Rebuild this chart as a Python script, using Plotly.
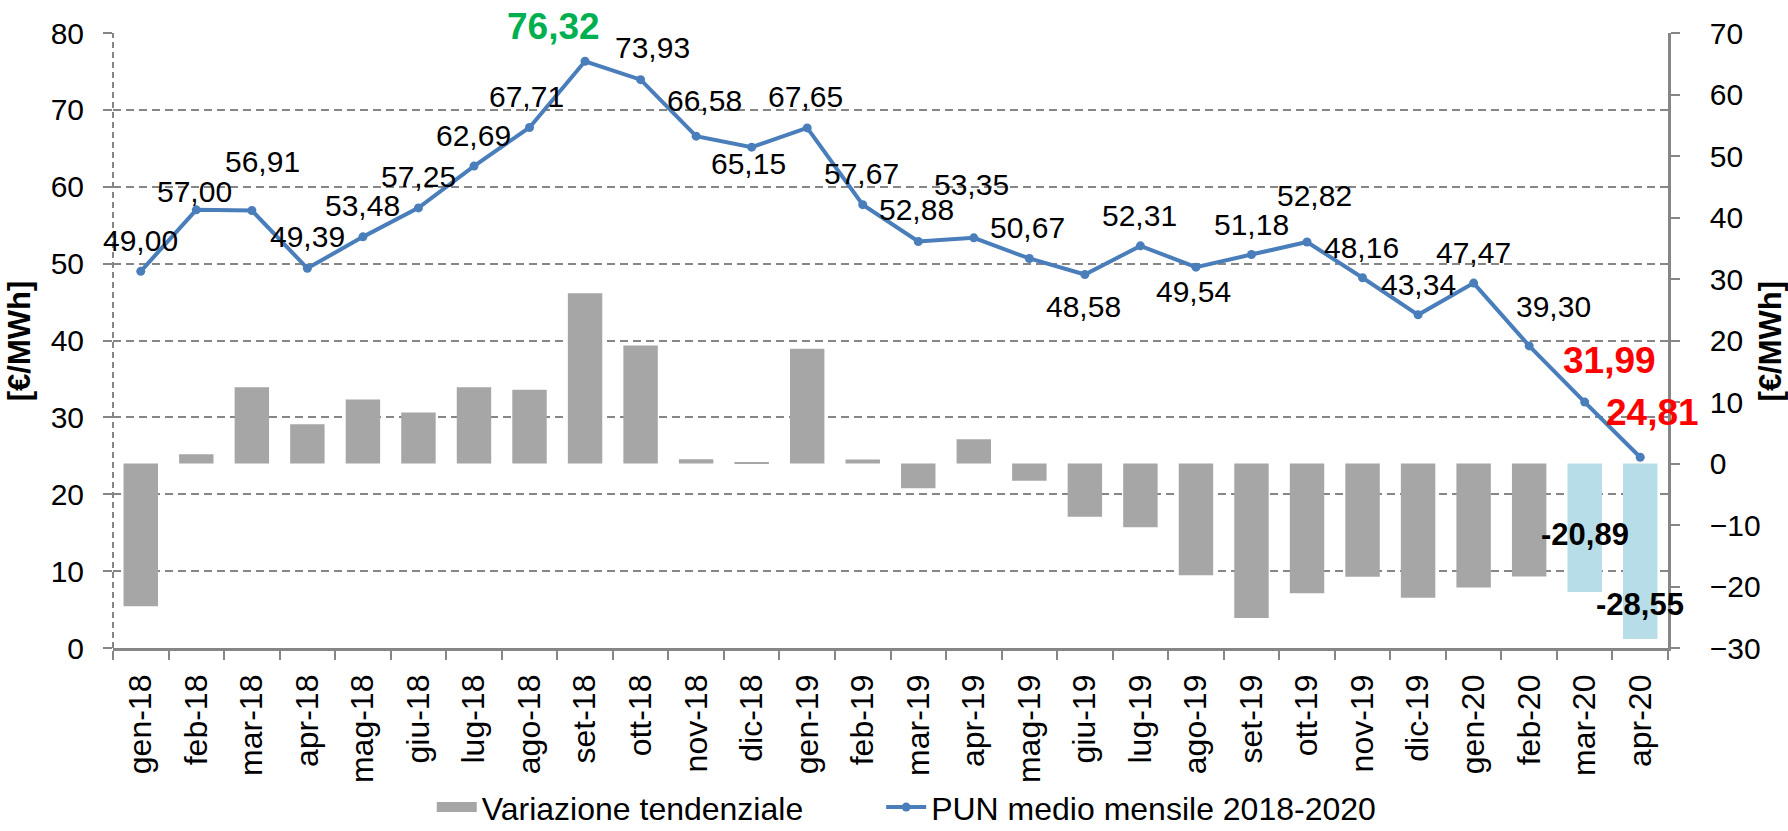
import plotly.graph_objects as go

months = ["gen-18", "feb-18", "mar-18", "apr-18", "mag-18", "giu-18", "lug-18", "ago-18",
          "set-18", "ott-18", "nov-18", "dic-18", "gen-19", "feb-19", "mar-19", "apr-19",
          "mag-19", "giu-19", "lug-19", "ago-19", "set-19", "ott-19", "nov-19", "dic-19",
          "gen-20", "feb-20", "mar-20", "apr-20"]

pun = [49.00, 57.00, 56.91, 49.39, 53.48, 57.25, 62.69, 67.71,
       76.32, 73.93, 66.58, 65.15, 67.65, 57.67, 52.88, 53.35,
       50.67, 48.58, 52.31, 49.54, 51.18, 52.82, 48.16, 43.34,
       47.47, 39.30, 31.99, 24.81]

variazione = [-23.2, 1.5, 12.4, 6.4, 10.4, 8.3, 12.4, 12.0,
              27.7, 19.2, 0.7, 0.1, 18.65, 0.67, -4.03, 3.96,
              -2.81, -8.67, -10.38, -18.17, -25.14, -21.11, -18.42, -21.81,
              -20.18, -18.37, -20.89, -28.55]

left_ticks = [0, 10, 20, 30, 40, 50, 60, 70, 80]
right_ticks = [-30, -20, -10, 0, 10, 20, 30, 40, 50, 60, 70]

# label placement offsets (pixels) for line labels
label_shift = [(0, 31), (-2, 18), (11, 49), (0, 32), (0, 31), (0, 31), (0, 31), (-3, 31),
               (-32, 35), (12, 32), (8, 36), (-3, -16), (-2, 31), (-1, 31), (-2, 32), (-2, 53),
               (-2, 31), (-1, -32), (-1, 30), (-2, -24), (0, 30), (7, 46), (-1, 30), (0, 30),
               (0, 31), (24, 39), (25, 42), (12, 45)]

GRAY_BAR = "#A6A6A6"
BLUE_BAR = "#B7DEE8"
LINE = "#4A7EBB"
AXIS = "#868686"
FONT = "Liberation Sans, Arial, sans-serif"

bar_colors = [GRAY_BAR] * (len(months) - 2) + [BLUE_BAR, BLUE_BAR]

fig = go.Figure()
# legend entry for the bars (wide rectangle swatch like the original)
fig.add_trace(go.Scatter(
    x=[None], y=[None], name="Variazione tendenziale", mode="lines",
    line=dict(color=GRAY_BAR, width=18), yaxis="y", hoverinfo="skip", legend="legend",
))
fig.add_trace(go.Bar(
    x=months, y=variazione, name="Variazione tendenziale", yaxis="y2",
    marker=dict(color=bar_colors, line=dict(width=0)), width=0.62, showlegend=False,
))
fig.add_trace(go.Scatter(
    x=months, y=pun, name="PUN medio mensile 2018-2020", yaxis="y",
    mode="lines+markers", line=dict(color=LINE, width=4),
    marker=dict(color=LINE, size=9), legend="legend2",
))

annotations = []
for i, (m, v) in enumerate(zip(months, pun)):
    txt = f"{v:.2f}".replace(".", ",")
    font = dict(family=FONT, size=30, color="black")
    if m == "set-18":
        font = dict(family=FONT, size=37, color="#00B050")
        txt = f"<b>{txt}</b>"
    elif m in ("mar-20", "apr-20"):
        font = dict(family=FONT, size=37, color="#FF0000")
        txt = f"<b>{txt}</b>"
    dx, dy = label_shift[i]
    annotations.append(dict(x=m, y=v, xref="x", yref="y", text=txt, showarrow=False,
                            xshift=dx, yshift=dy, font=font))

for m, dy in (("mar-20", 57), ("apr-20", 35)):
    v = variazione[months.index(m)]
    annotations.append(dict(x=m, y=v, xref="x", yref="y2",
                            text="<b>" + f"{v:.2f}".replace(".", ",") + "</b>",
                            showarrow=False, yshift=dy,
                            font=dict(family=FONT, size=31, color="black")))

for xp in (-0.06, 1.0662):
    annotations.append(dict(x=xp, y=0.5, xref="paper", yref="paper", text="<b>[€/MWh]</b>",
                            showarrow=False, textangle=-90, xanchor="center", yanchor="middle",
                            font=dict(family=FONT, size=31, color="black")))

legend_style = dict(orientation="h", y=-0.259, yanchor="middle", xanchor="left",
                    font=dict(size=32, family=FONT, color="black"), itemwidth=40,
                    bgcolor="rgba(0,0,0,0)")

fig.update_layout(
    width=1788, height=831,
    margin=dict(l=113, r=120, t=33, b=183, autoexpand=False),
    paper_bgcolor="white", plot_bgcolor="white",
    font=dict(family=FONT, color="black"),
    xaxis=dict(
        type="category", range=[-0.5, len(months) - 0.5], tickangle=-90,
        tickson="boundaries", ticks="outside",
        ticklen=9, tickwidth=2, tickcolor=AXIS, showline=True, linecolor=AXIS,
        linewidth=2.5, showgrid=False, tickfont=dict(size=32, family=FONT, color="black"),
        automargin=False, zeroline=False, ticklabelstandoff=11,
    ),
    yaxis=dict(
        range=[0, 80], tickvals=left_ticks, side="left", ticks="outside", ticklen=9,
        tickwidth=2, tickcolor=AXIS, showgrid=True, gridcolor=AXIS, griddash="8px,5px",
        gridwidth=2, showline=False, zeroline=False, automargin=False,
        tickfont=dict(size=30, family=FONT, color="black"), ticklabelstandoff=13,
    ),
    yaxis2=dict(
        range=[-30, 70], tickvals=right_ticks, side="right", overlaying="y",
        ticks="outside", ticklen=9, tickwidth=2, tickcolor=AXIS, showline=True,
        linecolor=AXIS, linewidth=2.5, showgrid=False, zeroline=False, automargin=False,
        tickfont=dict(size=30, family=FONT, color="black"), ticklabelstandoff=24,
    ),
    legend=dict(x=0.205, **legend_style),
    legend2=dict(x=0.494, **legend_style),
    annotations=annotations,
    shapes=[dict(type="line", xref="paper", yref="paper", x0=0, x1=0, y0=0, y1=1,
                 line=dict(color=AXIS, width=2, dash="6px,4px"))],
    showlegend=True,
)

fig.write_html("out.html", config={"displayModeBar": False},
               post_script="document.body.style.margin='0';document.body.style.overflow='hidden';")
